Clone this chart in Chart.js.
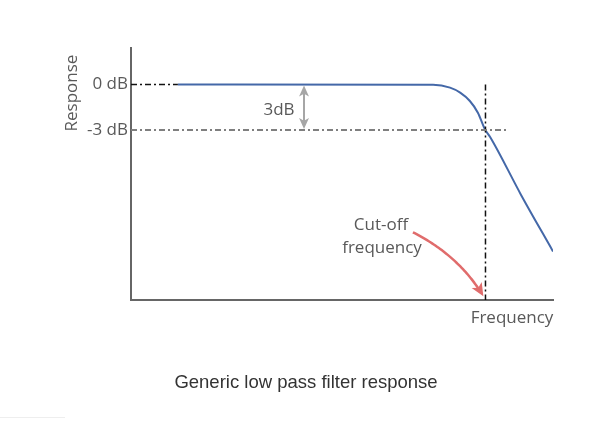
<!DOCTYPE html>
<html>
<head>
<meta charset="utf-8">
<script src="https://cdn.jsdelivr.net/npm/chart.js@4"></script>
<style>
  html, body { margin: 0; padding: 0; background: #fff; }
  #wrap { width: 607px; height: 423px; position: relative; }
</style>
</head>
<body>
<div id="wrap"><canvas id="filterChart"></canvas></div>
<script>
// values
const freq = [1.11, 7.16, 7.56, 7.80, 8.03, 8.22, 8.39, 8.51, 9.24, 10];
const responseDb = [0, -0.02, -0.21, -0.54, -1.09, -1.86, -2.97, -3.46, -7.26, -11.0];
const yTickValues = [0, -3];
const yTickLabels = ['0 dB', '-3 dB'];
const cutoffFreq = 8.4;
const cutoffDb = -3;
const zeroRefEnd = 1.11;
const minus3RefEnd = 8.9;

const GRAY_TEXT = '#595959';
const SANS = '"Open Sans", "Noto Sans", sans-serif';

// arrows, labels and caption
const annotations = {
    id: 'annotations',
    afterDraw(chart) {
        const ctx = chart.ctx;
        const x = chart.scales.x, y = chart.scales.y;
        const px = v => x.getPixelForValue(v);
        const py = v => y.getPixelForValue(v);

        function head(tx, ty, ang, size, color) {
            ctx.save();
            ctx.translate(tx, ty);
            ctx.rotate(ang);
            ctx.fillStyle = color;
            ctx.beginPath();
            ctx.moveTo(0, 0);
            ctx.lineTo(-size, -size * 0.45);
            ctx.lineTo(-size * 0.75, 0);
            ctx.lineTo(-size, size * 0.45);
            ctx.closePath();
            ctx.fill();
            ctx.restore();
        }

        ctx.save();

        // 3dB double arrow
        const ax = px(4.1), ay0 = py(0) + 1, ay1 = py(cutoffDb) - 1;
        ctx.strokeStyle = '#a6a6a6';
        ctx.lineWidth = 2;
        ctx.beginPath();
        ctx.moveTo(ax, ay0 + 8);
        ctx.lineTo(ax, ay1 - 8);
        ctx.stroke();
        head(ax, ay0, -Math.PI / 2, 11, '#a6a6a6');
        head(ax, ay1, Math.PI / 2, 11, '#a6a6a6');

        // cut-off curved arrow
        const p0 = [px(6.68), py(-9.74)];
        const c1 = [px(7.77), py(-11.27)];
        const p2 = [px(8.35), py(-13.95)];
        ctx.strokeStyle = '#e06c6c';
        ctx.lineWidth = 2.5;
        ctx.beginPath();
        ctx.moveTo(p0[0], p0[1]);
        const endT = 0.9;
        const bx = t => (1 - t) * (1 - t) * p0[0] + 2 * (1 - t) * t * c1[0] + t * t * p2[0];
        const by = t => (1 - t) * (1 - t) * p0[1] + 2 * (1 - t) * t * c1[1] + t * t * p2[1];
        for (let t = 0.02; t <= endT + 0.001; t += 0.02) ctx.lineTo(bx(t), by(t));
        ctx.stroke();
        const ang = Math.atan2(p2[1] - c1[1], p2[0] - c1[0]);
        head(p2[0], p2[1], ang, 13, '#e06c6c');

        // labels
        ctx.fillStyle = GRAY_TEXT;
        ctx.font = '17px ' + SANS;
        ctx.textAlign = 'center';
        ctx.textBaseline = 'middle';
        ctx.fillText('3dB', 279, 110);
        ctx.fillText('Cut-off', 381, 225);
        ctx.fillText('frequency', 382, 248);
        ctx.fillText('Frequency', 512, 318);

        ctx.save();
        ctx.translate(72, 93);
        ctx.rotate(-Math.PI / 2);
        ctx.fillText('Response', 0, 0);
        ctx.restore();

        // caption
        ctx.fillStyle = '#333333';
        ctx.font = '18.5px "Liberation Sans", Arial, sans-serif';
        ctx.fillText('Generic low pass filter response', 306, 383);

        // faint rule at lower left
        ctx.strokeStyle = '#eeeeee';
        ctx.lineWidth = 1;
        ctx.beginPath();
        ctx.moveTo(0, 417.5);
        ctx.lineTo(65, 417.5);
        ctx.stroke();

        ctx.restore();
    }
};

const ctx = document.getElementById('filterChart').getContext('2d');

new Chart(ctx, {
    type: 'scatter',
    data: {
        datasets: [
            {
                label: '0 dB reference',
                data: [{ x: 0, y: 0 }, { x: zeroRefEnd, y: 0 }],
                showLine: true,
                borderColor: '#111111',
                borderWidth: 1.5,
                borderDash: [6, 3, 2, 3],
                pointRadius: 0
            },
            {
                label: '-3 dB reference',
                data: [{ x: 0, y: cutoffDb }, { x: minus3RefEnd, y: cutoffDb }],
                showLine: true,
                borderColor: '#7f7f7f',
                borderWidth: 2,
                borderDash: [6, 3, 2, 3],
                pointRadius: 0
            },
            {
                label: 'Cut-off',
                data: [{ x: cutoffFreq, y: 0 }, { x: cutoffFreq, y: -14.2 }],
                showLine: true,
                borderColor: '#111111',
                borderWidth: 1.5,
                borderDash: [6, 3, 2, 3],
                pointRadius: 0
            },
            {
                label: 'Response',
                data: freq.map((f, i) => ({ x: f, y: responseDb[i] })),
                showLine: true,
                borderColor: '#4468a8',
                borderWidth: 2,
                cubicInterpolationMode: 'monotone',
                pointRadius: 0
            }
        ]
    },
    options: {
        responsive: true,
        maintainAspectRatio: false,
        animation: false,
        layout: { padding: { top: 48, right: 54, left: 0, bottom: 0 } },
        plugins: {
            legend: { display: false },
            tooltip: { enabled: false }
        },
        scales: {
            x: {
                type: 'linear',
                min: 0,
                max: 10,
                grid: { display: false, drawTicks: false },
                border: { display: true, color: '#666666', width: 2 },
                ticks: { display: false },
                afterFit: s => { s.height = 123; }
            },
            y: {
                type: 'linear',
                min: -14.2,
                max: 2.4,
                grid: { display: false, drawTicks: false },
                border: { display: true, color: '#666666', width: 2 },
                afterBuildTicks: s => { s.ticks = yTickValues.map(v => ({ value: v })); },
                ticks: {
                    color: GRAY_TEXT,
                    font: { family: SANS, size: 17 },
                    padding: 3,
                    callback: v => yTickLabels[yTickValues.indexOf(v)]
                },
                afterFit: s => { s.width = 131; }
            }
        }
    },
    plugins: [annotations]
});
</script>
</body>
</html>
